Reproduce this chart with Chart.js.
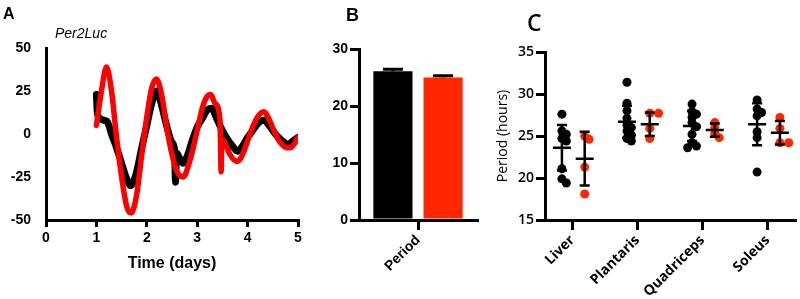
<!DOCTYPE html>
<html>
<head>
<meta charset="utf-8">
<script src="https://cdn.jsdelivr.net/npm/chart.js@4.4.0/dist/chart.umd.min.js"></script>
<style>
  body { margin: 0; background: #fff; }
  #wrap { position: relative; width: 800px; height: 299px; overflow: hidden; }
  canvas { position: absolute; top: 0; }
  .lbl { position: absolute; line-height: 1; color: #000; white-space: nowrap; }
</style>
</head>
<body>
<div id="wrap">
  <canvas id="chartA" width="320" height="299" style="left:0px"></canvas>
  <canvas id="chartB" width="160" height="299" style="left:320px"></canvas>
  <canvas id="chartC" width="330" height="299" style="left:470px"></canvas>
  <div class="lbl" style="left:3px;top:5px;font:bold 16px 'Liberation Sans'">A</div>
  <div class="lbl" style="left:55px;top:25px;font:italic 14px 'Liberation Sans'">Per2Luc</div>
  <div class="lbl" style="left:346px;top:5px;font:bold 18px 'Liberation Sans'">B</div>
  <div class="lbl" style="left:527px;top:6px;font:600 23px 'Open Sans'">C</div>
</div>
<script>
// Panel A: Per2Luc bioluminescence traces (days vs detrended signal)
const blackTime = [1.00, 1.02, 1.07, 1.15, 1.22, 1.30, 1.40, 1.50, 1.60, 1.68, 1.78, 1.90, 2.00, 2.10, 2.20, 2.30, 2.40, 2.50, 2.55, 2.57, 2.59, 2.65, 2.72, 2.80, 2.90, 3.00, 3.10, 3.20, 3.28, 3.40, 3.50, 3.60, 3.70, 3.80, 3.90, 4.00, 4.10, 4.20, 4.32, 4.45, 4.55, 4.65, 4.80, 4.90, 5.00];
const blackSignal = [23, 12, 9, 8, 7, 0, -8, -17, -26, -30, -24, -8, 5, 18, 25, 16, 4, -5, -9, -28, -11, -14, -17, -13, -4, 4, 9, 14, 15, 8, 2, -3, -7, -10, -7, -2, 2, 6, 8, 4, 0, -3, -6, -4, -2];
const redTime = [1.00, 1.10, 1.20, 1.30, 1.40, 1.50, 1.60, 1.69, 1.80, 1.90, 2.00, 2.10, 2.19, 2.30, 2.40, 2.50, 2.60, 2.72, 2.85, 3.00, 3.10, 3.20, 3.27, 3.35, 3.45, 3.475, 3.49, 3.55, 3.65, 3.80, 3.90, 4.00, 4.10, 4.20, 4.32, 4.45, 4.55, 4.65, 4.78, 4.85, 4.92, 5.00];
const redSignal = [5, 25, 39, 25, -2, -25, -42, -46, -35, -12, 10, 27, 32, 22, 3, -12, -22, -25, -16, 2, 15, 22, 23, 18, 9, -22, -3, -5, -12, -16, -12, -4, 4, 10, 13, 7, 0, -5, -8, -8, -6, -2];

// Panel B: mean period with SEM
const barLabels = ['Period'];
const barBlack = [26.1];
const barRed = [25.0];
const semBlack = [0.35];
const semRed = [0.3];

// Panel C: tissue periods (hours)
const tissues = ['Liver', 'Plantaris', 'Quadriceps', 'Soleus'];
const blackPeriods = [
  [27.6, 25.6, 25.2, 24.7, 24.4, 21.1, 19.4, 19.9],
  [31.4, 28.9, 28.0, 27.1, 26.3, 26.0, 25.6, 25.1, 24.7, 24.4],
  [28.8, 27.9, 27.6, 27.2, 26.6, 26.1, 25.2, 24.2, 23.8, 23.6],
  [29.3, 28.2, 27.8, 27.4, 25.5, 24.8, 20.7]
];
const redPeriods = [
  [25.0, 24.6, 21.3, 18.1],
  [27.7, 27.7, 25.9, 24.7],
  [26.6, 26.0, 25.3, 24.8],
  [27.2, 25.9, 24.2, 24.2]
];
const blackMean = [23.6, 26.7, 26.2, 26.4];
const blackSD = [2.7, 1.9, 1.8, 2.5];
const redMean = [22.3, 26.4, 25.7, 25.4];
const redSD = [3.2, 1.4, 0.8, 1.4];

const arial = (size) => ({ family: 'Liberation Sans', size: size, weight: 'bold' });
const noPlugins = { legend: { display: false }, tooltip: { enabled: false } };

new Chart(document.getElementById('chartA'), {
  type: 'line',
  data: {
    datasets: [
      { data: redTime.map((t, i) => ({ x: t, y: redSignal[i] })), borderColor: '#ff0000', borderWidth: 5.5 },
      { data: blackTime.map((t, i) => ({ x: t, y: blackSignal[i] })), borderColor: '#000', borderWidth: 7 }
    ]
  },
  options: {
    responsive: false,
    animation: false,
    layout: { padding: { top: 48, right: 22, bottom: 0, left: 0 } },
    plugins: noPlugins,
    elements: {
      point: { radius: 0 },
      line: { cubicInterpolationMode: 'monotone', borderCapStyle: 'round', borderJoinStyle: 'round', fill: false }
    },
    scales: {
      x: {
        type: 'linear', min: 0, max: 5,
        ticks: { stepSize: 1, color: '#000', font: arial(14), padding: 3 },
        grid: { drawOnChartArea: false, tickLength: 7, lineWidth: 3, color: '#000' },
        border: { color: '#000', width: 3 },
        title: { display: true, text: 'Time (days)', color: '#000', font: arial(16), padding: { top: 0, bottom: 26 } },
        afterFit: (s) => { s.height = 79; }
      },
      y: {
        min: -50, max: 50,
        ticks: { stepSize: 25, color: '#000', font: arial(14), padding: 7 },
        grid: { display: false },
        border: { color: '#000', width: 3 },
        afterFit: (s) => { s.width = 46; }
      }
    }
  }
});

// error caps on top of the bars
const barErrors = {
  id: 'barErrors',
  afterDatasetsDraw(chart) {
    const ctx = chart.ctx;
    const y = chart.scales.y;
    ctx.save();
    ctx.strokeStyle = '#000';
    ctx.lineWidth = 3;
    [semBlack, semRed].forEach((sem, d) => {
      chart.getDatasetMeta(d).data.forEach((bar, i) => {
        const top = y.getPixelForValue(chart.data.datasets[d].data[i] + sem[i]);
        ctx.beginPath();
        ctx.moveTo(bar.x, bar.y);
        ctx.lineTo(bar.x, top);
        ctx.moveTo(bar.x - 10, top);
        ctx.lineTo(bar.x + 10, top);
        ctx.stroke();
      });
    });
    ctx.restore();
  }
};

new Chart(document.getElementById('chartB'), {
  type: 'bar',
  data: {
    labels: barLabels,
    datasets: [
      { data: barBlack, backgroundColor: '#000' },
      { data: barRed, backgroundColor: '#ff2600' }
    ]
  },
  options: {
    responsive: false,
    animation: false,
    layout: { padding: { top: 49, right: 3, bottom: 0, left: 0 } },
    datasets: { bar: { categoryPercentage: 0.85, barPercentage: 0.78 } },
    plugins: noPlugins,
    scales: {
      x: {
        ticks: { color: '#000', font: arial(14), minRotation: 45, maxRotation: 45, padding: 2 },
        grid: { drawOnChartArea: false, offset: false, tickLength: 10, lineWidth: 3, color: '#000' },
        border: { color: '#000', width: 3 },
        afterFit: (s) => { s.height = 79; }
      },
      y: {
        min: 0, max: 30,
        ticks: { stepSize: 10, color: '#000', font: arial(14), padding: 2 },
        grid: { drawOnChartArea: false, tickLength: 9, lineWidth: 3, color: '#000' },
        border: { color: '#000', width: 3 },
        afterFit: (s) => { s.width = 39; }
      }
    }
  },
  plugins: [barErrors]
});

// Panel C scatter
const xMin = 0.58, xMax = 4.43, yMin = 15, yMax = 35;
const pxX = 255 / (xMax - xMin);
const pxY = 168 / (yMax - yMin);
const dot = 9;
const blackShift = -0.16, redShift = 0.19;

// simple beeswarm so overlapping dots spread sideways (tight, like the original)
function swarm(vals) {
  const order = vals.map((v, i) => i).sort((a, b) => vals[b] - vals[a]);
  const placed = [];
  const offs = vals.map(() => 0);
  order.forEach((i) => {
    const py = vals[i] * pxY;
    for (let k = 0; k < 30; k++) {
      const step = Math.ceil(k / 2) * (k % 2 ? 1 : -1) * dot * 0.5;
      const ok = placed.every((p) => Math.hypot(p.x - step, p.y - py) >= dot * 0.55);
      if (ok) {
        placed.push({ x: step, y: py });
        offs[i] = step / pxX;
        break;
      }
    }
  });
  return offs;
}

function points(groups, shift) {
  const out = [];
  groups.forEach((vals, g) => {
    const offs = swarm(vals);
    vals.forEach((v, i) => out.push({ x: g + 1 + shift + offs[i], y: v }));
  });
  return out;
}

const meanBars = {
  id: 'meanBars',
  afterDatasetsDraw(chart) {
    const ctx = chart.ctx;
    const xs = chart.scales.x, ys = chart.scales.y;
    ctx.save();
    ctx.strokeStyle = '#000';
    ctx.lineWidth = 2.5;
    const draw = (means, sds, shift) => {
      means.forEach((m, g) => {
        const x = xs.getPixelForValue(g + 1 + shift);
        const yHi = ys.getPixelForValue(m + sds[g]);
        const yLo = ys.getPixelForValue(m - sds[g]);
        const yM = ys.getPixelForValue(m);
        ctx.beginPath();
        ctx.moveTo(x, yHi); ctx.lineTo(x, yLo);
        ctx.moveTo(x - 5, yHi); ctx.lineTo(x + 5, yHi);
        ctx.moveTo(x - 5, yLo); ctx.lineTo(x + 5, yLo);
        ctx.moveTo(x - 9, yM); ctx.lineTo(x + 9, yM);
        ctx.stroke();
      });
    };
    draw(blackMean, blackSD, blackShift);
    draw(redMean, redSD, redShift);
    ctx.restore();
  }
};

const openSans = (size, weight) => ({ family: 'Open Sans', size: size, weight: weight });

new Chart(document.getElementById('chartC'), {
  type: 'scatter',
  data: {
    datasets: [
      { data: points(blackPeriods, blackShift), backgroundColor: '#000', borderWidth: 0, pointRadius: dot / 2 },
      { data: points(redPeriods, redShift), backgroundColor: '#ff2600', borderWidth: 0, pointRadius: dot / 2 }
    ]
  },
  options: {
    responsive: false,
    animation: false,
    layout: { padding: { top: 52, right: 0, bottom: 0, left: 0 } },
    plugins: noPlugins,
    scales: {
      x: {
        type: 'linear', min: xMin, max: xMax,
        afterBuildTicks: (s) => { s.ticks = tissues.map((t, i) => ({ value: i + 1 })); },
        ticks: {
          color: '#000', font: openSans(14, 700), minRotation: 45, maxRotation: 45, autoSkip: false, padding: 2,
          callback: (v) => tissues[v - 1]
        },
        grid: { drawOnChartArea: false, tickLength: 10, lineWidth: 3, color: '#000' },
        border: { color: '#000', width: 3 },
        afterFit: (s) => { s.height = 79; }
      },
      y: {
        min: yMin, max: yMax,
        ticks: { stepSize: 5, color: '#000', font: openSans(14, 600), padding: 2 },
        grid: { drawOnChartArea: false, tickLength: 9, lineWidth: 3, color: '#000' },
        border: { color: '#000', width: 3 },
        title: { display: true, text: 'Period (hours)', color: '#000', font: openSans(14, 400), padding: { top: 25, bottom: 0 } },
        afterFit: (s) => { s.width = 75; }
      }
    }
  },
  plugins: [meanBars]
});
</script>
</body>
</html>
